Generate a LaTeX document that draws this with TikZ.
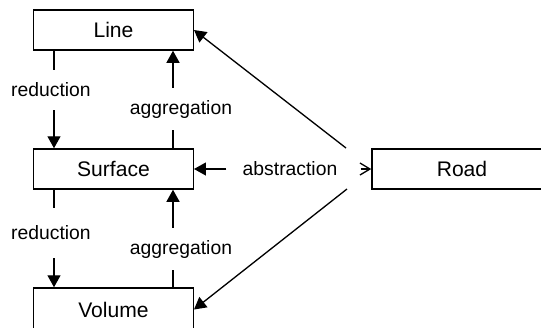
\documentclass[tikz,border=0pt]{standalone}
\usepackage{fontspec}
\setmainfont{Liberation Sans}
\usetikzlibrary{arrows.meta}

\begin{document}
\begin{tikzpicture}[
  geom/.style={draw, line width=0.85pt, minimum width=3.19cm, minimum height=0.8cm, inner sep=0pt, font=\fontsize{12}{14}\selectfont},
  rel/.style={inner ysep=0pt, inner xsep=0.32cm, minimum height=0.8cm, font=\fontsize{11}{13}\selectfont},
  link/.style={line width=0.75pt},
  tip/.style={-{Triangle[length=0.24cm, width=0.26cm]}}
]
\useasboundingbox (0, 0) rectangle (10.82, -6.54);
\node[geom] (line) at (2.27, -0.60) {Line}; % top
\node[geom] (surface) at (2.27, -3.38) {Surface};
\node[geom, minimum height=0.86cm] (volume) at (2.27, -6.19) {Volume}; % bottom
\node[geom, minimum width=3.6cm] (road) at (9.24, -3.38) {Road};
\node[rel] (redA) at (1.02, -1.80) {reduction};
\node[rel, minimum height=0.84cm] (aggA) at (3.62, -2.18) {aggregation};
\node[rel, minimum height=1cm] (redB) at (1.02, -4.66) {reduction};
\node[rel, minimum height=0.84cm] (aggB) at (3.62, -4.98) {aggregation};
\node[rel] (abstr) at (5.80, -3.38) {abstraction};
\coordinate (dn) at (1.08, 0); % reduction lines
\coordinate (up) at (3.46, 0); % aggregation lines
\coordinate (fkA) at (6.92, -2.96);
\coordinate (fkB) at (6.94, -3.78);
\draw[link] (line.south -| dn) -- (redA.north -| dn);
\draw[link, tip] (redA.south -| dn) -- (surface.north -| dn);
\draw[link] (surface.north -| up) -- (aggA.south -| up);
\draw[link, tip] (aggA.north -| up) -- (line.south -| up);
\draw[link] (surface.south -| dn) -- (redB.north -| dn);
\draw[link, tip] (redB.south -| dn) -- (volume.north -| dn);
\draw[link] (volume.north -| up) -- (aggB.south -| up);
\draw[link, tip] (aggB.north -| up) -- (surface.south -| up);
\draw[link, tip] (abstr.west) -- (surface.east);
\draw[link, -{Straight Barb[length=0.2cm, width=0.24cm]}, shorten <=0.14cm] (abstr.east) -- (road.west);
\draw[link, tip] (fkA) -- (line.east);
\draw[link, tip] (fkB) -- (volume.east);
\end{tikzpicture}
\end{document}
